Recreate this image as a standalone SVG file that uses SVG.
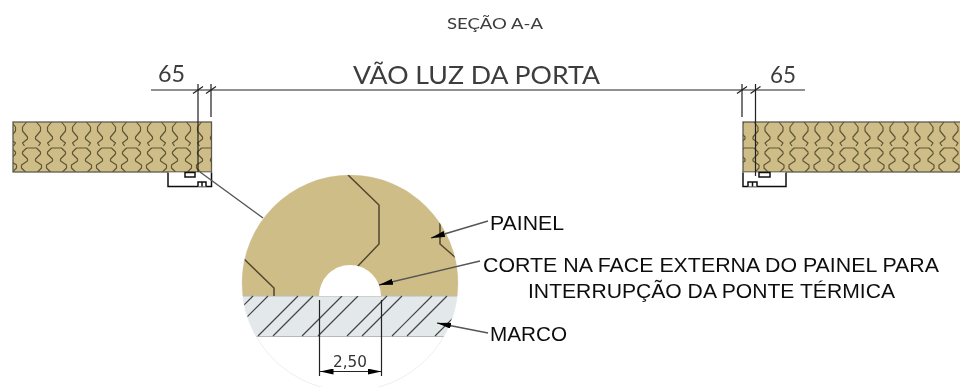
<svg xmlns="http://www.w3.org/2000/svg" width="960" height="387" viewBox="0 0 960 387">
<style>
.panel{fill:#cfbd87;stroke:#5c5a50;stroke-width:1.3}
.wave{fill:none;stroke:#5f5639;stroke-width:1.2;stroke-linejoin:round}
.frame{fill:#fff;stroke:#111;stroke-width:1.5}
.dim{fill:none;stroke:#222;stroke-width:1.2}
.lead{fill:none;stroke:#555;stroke-width:1.4}
.crack{fill:none;stroke:#4f472e;stroke-width:1.5}
.hatch{fill:none;stroke:#444;stroke-width:1.2}
.g{font-family:"Lato","Open Sans",sans-serif;fill:#3c3c3c}
.a{font-family:"Liberation Sans",Arial,sans-serif;fill:#111;font-size:21px}
</style>
<defs>
<filter id="soft" x="0" y="0" width="100%" height="100%"><feGaussianBlur stdDeviation="0.4"/></filter>
<path id="peanut" d="M-5 122L-9 127V131L-4 137V139L-9 143L-7 146M5 122L9 127V131L4 137V139L9 143L7 146M-5 148H5L9 152V154L4 159V161L10 165V168L6 172M-5 148L-9 152V154L-4 159V161L-10 165V168L-6 172"/>
<clipPath id="cl"><rect x="13" y="121" width="199" height="51"/></clipPath>
<clipPath id="cr"><rect x="743" y="121" width="217" height="51"/></clipPath>
<clipPath id="disc"><circle cx="350" cy="283" r="108"/></clipPath>
<marker id="ah" viewBox="0 0 14 6" refX="14" refY="3" markerWidth="14" markerHeight="6" markerUnits="userSpaceOnUse" orient="auto"><path d="M0 0L14 3L0 6Z" fill="#000"/></marker>
<marker id="as" viewBox="0 0 14 6" refX="0" refY="3" markerWidth="14" markerHeight="6" markerUnits="userSpaceOnUse" orient="auto"><path d="M14 0L0 3L14 6Z" fill="#000"/></marker>
</defs>
<g filter="url(#soft)">
<g id="painel-esquerdo">
<rect class="panel" x="13" y="122" width="198.500" height="50"/>
<g class="wave" clip-path="url(#cl)">
<use href="#peanut" x="6.500"/><use href="#peanut" x="31.500"/><use href="#peanut" x="56.500"/><use href="#peanut" x="81.500"/><use href="#peanut" x="106.500"/><use href="#peanut" x="131.500"/><use href="#peanut" x="156.500"/><use href="#peanut" x="181.500"/><use href="#peanut" x="206.500"/>
</g>
</g>
<g id="marco-esquerdo">
<path class="frame" d="M168 172.500V186.500H211.500V172.500"/>
<rect class="frame" x="185" y="172.500" width="10" height="4.500"/>
<path class="frame" d="M198 186.500V182H206V186.500M202 182V186.500"/>
</g>
<g id="painel-direito">
<rect class="panel" x="743" y="122" width="220" height="50"/>
<g class="wave" clip-path="url(#cr)">
<use href="#peanut" x="749"/><use href="#peanut" x="774"/><use href="#peanut" x="799"/><use href="#peanut" x="824"/><use href="#peanut" x="849"/><use href="#peanut" x="874"/><use href="#peanut" x="899"/><use href="#peanut" x="924"/><use href="#peanut" x="949"/>
</g>
</g>
<g id="marco-direito">
<path class="frame" d="M743 172.500V186.500H786V172.500"/>
<rect class="frame" x="759" y="172.500" width="11" height="4.500"/>
<path class="frame" d="M748 186.500V182H757V186.500M752.500 182V186.500"/>
</g>
<g id="detalhe">
<circle cx="350" cy="283" r="108" fill="#fff" stroke="#eeeeee" stroke-width="1"/>
<g clip-path="url(#disc)">
<rect x="240" y="170" width="220" height="126" fill="#cfbd87"/>
<rect x="240" y="296" width="220" height="40" fill="#e3e8ea"/>
<path d="M240 296H460" stroke="#b9bcb4" stroke-width="1"/>
<path d="M240 336.500H460" stroke="#b5b9ba" stroke-width="1"/>
<path class="hatch" d="M253 296L213 336M268 296L228 336M298 296L258 336M313 296L273 336M342 296L302 336M358 296L318 336M387 296L347 336M402 296L362 336M432 296L392 336M447 296L407 336M475 296L435 336"/>
<path class="crack" d="M348 175L379 205V244L357 267M243 258L274 288V296M440 223V244L456 258"/>
</g>
<path d="M319 296A31 31 0 0 1 381 296Z" fill="#fff"/>
</g>
<g id="conectores">
<path class="dim" d="M151 90H805M198 84V172M211 84V117M742 84V117M755.500 84V176"/>
<path class="dim" d="M193 93.500L203 86.500M206 93.500L216 86.500M737 93.500L747 86.500M750.500 93.500L760.500 86.500" stroke-width="1.300"/>
<path class="lead" d="M200 172L263 218"/>
<path class="lead" d="M488 221L431 238" marker-end="url(#ah)"/>
<path class="lead" d="M480 261L379 285" marker-end="url(#ah)"/>
<path class="lead" d="M488 333L437 323" marker-end="url(#ah)"/>
<path class="dim" d="M319.500 300V376M381.500 300V376"/>
<path class="dim" d="M319.500 371.500H381.500" marker-start="url(#as)" marker-end="url(#ah)"/>
</g>
<g id="textos">
<text class="g" x="447" y="29" font-size="15" textLength="96" lengthAdjust="spacingAndGlyphs">SEÇÃO A-A</text>
<text class="g" x="353" y="84" font-size="25" textLength="247" lengthAdjust="spacingAndGlyphs">VÃO LUZ DA PORTA</text>
<text class="g" x="158" y="82" font-size="24" textLength="27" lengthAdjust="spacingAndGlyphs">65</text>
<text class="g" x="770" y="83" font-size="24" textLength="26" lengthAdjust="spacingAndGlyphs">65</text>
<text x="333" y="367" font-family="'DejaVu Sans',sans-serif" font-size="16" fill="#333" textLength="34" lengthAdjust="spacingAndGlyphs">2,50</text>
<text class="a" x="490" y="230" textLength="74" lengthAdjust="spacingAndGlyphs">PAINEL</text>
<text class="a" x="483" y="272" textLength="456" lengthAdjust="spacingAndGlyphs">CORTE NA FACE EXTERNA DO PAINEL PARA</text>
<text class="a" x="528" y="298" textLength="367" lengthAdjust="spacingAndGlyphs">INTERRUPÇÃO DA PONTE TÉRMICA</text>
<text class="a" x="490" y="341" textLength="77" lengthAdjust="spacingAndGlyphs">MARCO</text>
</g>
</g>
</svg>
